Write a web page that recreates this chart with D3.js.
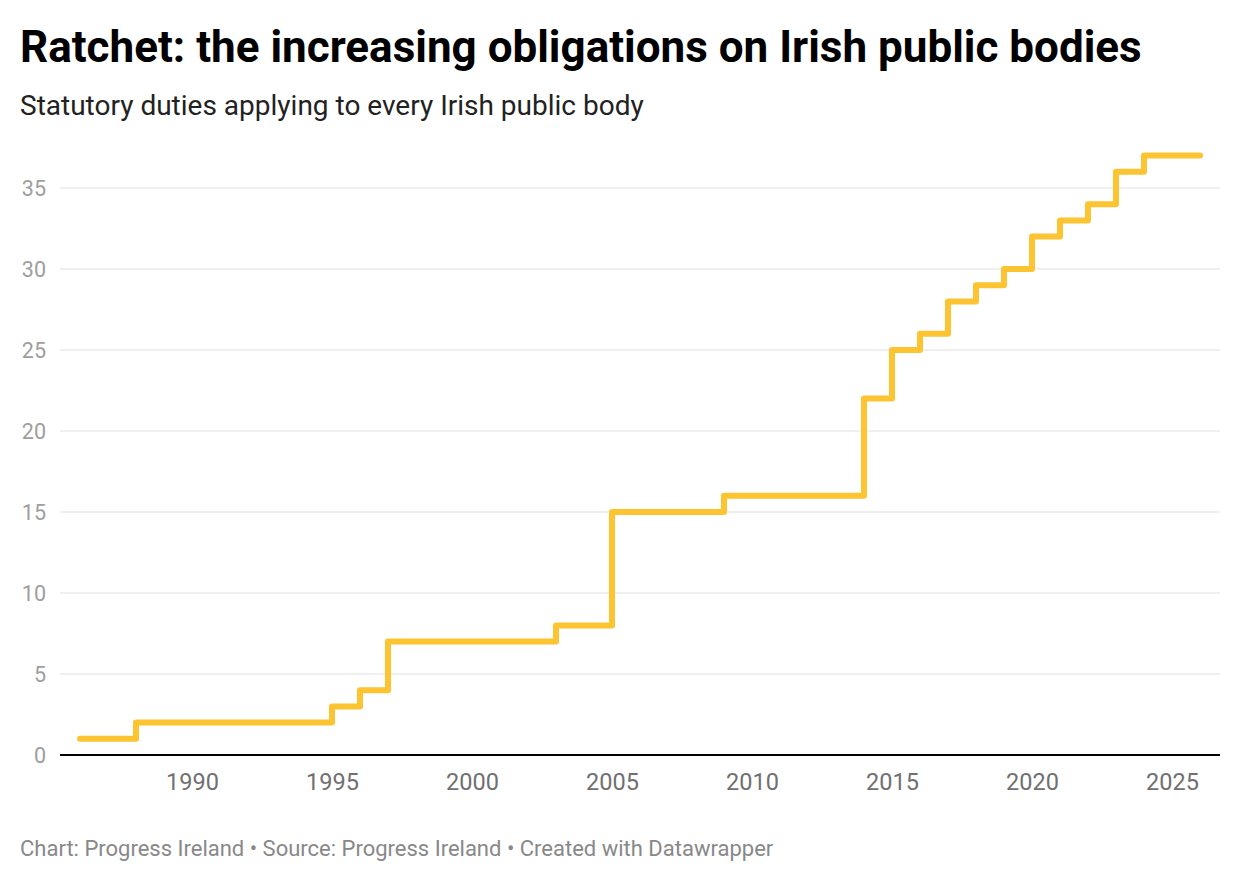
<!DOCTYPE html>
<html><head><meta charset="utf-8">
<script src="https://cdn.jsdelivr.net/npm/d3@7"></script>
<style>
body{margin:0;background:#fff;font-family:Roboto,sans-serif;}
</style></head><body>
<svg id="chart" width="1240" height="882"></svg>
<script>
const years = [1986,1988,1995,1996,1997,2003,2005,2009,2014,2015,2016,2017,2018,2019,2020,2021,2022,2023,2024,2026];
const duties = [1,2,3,4,7,8,15,16,22,25,26,28,29,30,32,33,34,36,37,37];
const xTicks = [1990,1995,2000,2005,2010,2015,2020,2025];
const yTicks = [0,5,10,15,20,25,30,35];
const title = "Ratchet: the increasing obligations on Irish public bodies";
const subtitle = "Statutory duties applying to every Irish public body";
const footer = "Chart: Progress Ireland • Source: Progress Ireland • Created with Datawrapper";

const svg = d3.select("#chart");
const plotLeft = 60, plotRight = 1220;
const x = d3.scaleLinear().domain([1986,2026]).range([80,1200]);
const y = d3.scaleLinear().domain([0,35]).range([755,188]);

svg.append("text").attr("x",20).attr("y",62).attr("font-size",44).attr("font-weight",700)
  .attr("fill","#000").text(title);
svg.append("text").attr("x",20).attr("y",115).attr("font-size",28).attr("fill","#222").text(subtitle);

// gridlines
const g = svg.append("g");
g.selectAll("line.grid").data(yTicks.filter(d=>d>0)).join("line")
  .attr("x1",plotLeft).attr("x2",plotRight)
  .attr("y1",d=>y(d)).attr("y2",d=>y(d))
  .attr("stroke","#e0e0e0").attr("stroke-width",1.2);
g.selectAll("text.ylab").data(yTicks).join("text")
  .attr("x",46).attr("y",d=>y(d)+7.5).attr("text-anchor","end")
  .attr("font-size",21.5).attr("fill","#9e9e9e").text(d=>d);

// x axis
const xAxis = d3.axisBottom(x).tickValues(xTicks).tickSize(0).tickFormat(d3.format("d"));
const ax = svg.append("g").attr("transform",`translate(0,${y(0)})`).call(xAxis);
ax.select(".domain").remove();
ax.selectAll("text").attr("font-size",23.5).attr("fill","#707070").attr("font-family","Roboto").attr("dy",0).attr("y",35);

// line
const line = d3.line().x(d=>x(d[0])).y(d=>y(d[1])).curve(d3.curveStepAfter);
svg.append("path").datum(years.map((yr,i)=>[yr,duties[i]]))
  .attr("d",line).attr("fill","none").attr("stroke","#fdc432")
  .attr("stroke-width",6).attr("stroke-linejoin","round").attr("stroke-linecap","round");

// baseline
svg.append("line").attr("x1",plotLeft).attr("x2",plotRight)
  .attr("y1",y(0)).attr("y2",y(0)).attr("stroke","#000").attr("stroke-width",2);

svg.append("text").attr("x",20).attr("y",856).attr("font-size",22).attr("fill","#888").text(footer);
</script>
</body></html>
